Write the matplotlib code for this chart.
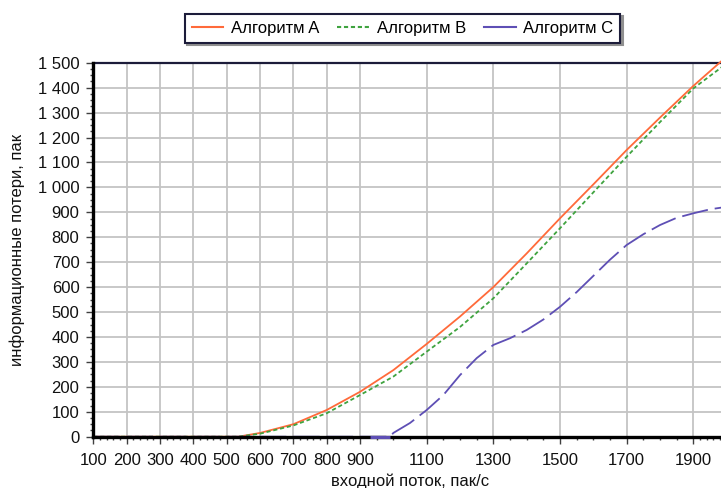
import matplotlib
matplotlib.use("Agg")
import matplotlib.pyplot as plt
from matplotlib.lines import Line2D

plt.rcParams['font.family'] = ['Liberation Sans', 'DejaVu Sans']
plt.rcParams['lines.scale_dashes'] = False

# ---- data ----
x_a = [100, 300, 500, 535, 600, 700, 800, 900, 1000, 1100, 1200, 1300, 1400, 1500, 1600, 1700, 1800, 1900, 2000]
y_a = [0, 0, 0, 0, 15, 50, 107, 180, 267, 372, 482, 600, 735, 876, 1012, 1150, 1280, 1407, 1525]

x_b = [100, 300, 500, 535, 600, 700, 800, 900, 1000, 1100, 1200, 1300, 1400, 1500, 1600, 1700, 1800, 1900, 2000]
y_b = [0, 0, 0, 0, 12, 45, 94, 167, 241, 341, 440, 555, 695, 836, 980, 1123, 1262, 1397, 1497]

x_c = [100, 500, 900, 990, 1000, 1050, 1100, 1150, 1200, 1250, 1300, 1350, 1400, 1450, 1500, 1550,
       1600, 1650, 1700, 1750, 1800, 1850, 1900, 1950, 2000]
y_c = [0, 0, 0, 0, 15, 55, 107, 167, 247, 315, 368, 395, 428, 470, 521, 580,
       645, 710, 769, 812, 849, 878, 896, 912, 922]

series_names = ['Алгоритм A', 'Алгоритм B', 'Алгоритм C']
x_major = [100, 200, 300, 400, 500, 600, 700, 800, 900, 1100, 1300, 1500, 1700, 1900]
y_major = list(range(0, 1501, 100))

c_a = '#FF6A3A'
c_b = '#3FA33F'
c_c = '#5E4FB5'

W, H = 721, 488
fig = plt.figure(figsize=(W / 100, H / 100), dpi=100)
left_px, right_px = 93.3, 726.7
top_px, bot_px = 62.7, 436.7
ax = fig.add_axes([left_px / W, 1 - bot_px / H, (right_px - left_px) / W, (bot_px - top_px) / H])

ax.set_xlim(100, 2000)
ax.set_ylim(0, 1500)

# grid
grid_c = '#C4C4C4'
for v in x_major[1:]:
    ax.axvline(v, color=grid_c, lw=1.3, zorder=0)
for v in y_major[1:]:
    ax.axhline(v, color=grid_c, lw=1.3, zorder=0)

la, = ax.plot(x_a, y_a, color=c_a, lw=1.3, label=series_names[0], zorder=3)
lb, = ax.plot(x_b, y_b, color=c_b, lw=1.3, label=series_names[1], zorder=3)
lb.set_dashes((3.0, 2.0))
lc, = ax.plot(x_c, y_c, color=c_c, lw=1.3, label=series_names[2], zorder=3)
lc.set_dashes((19, 5))
for ln in (la, lb, lc):
    ln.set_clip_on(False)

# short visible piece of series C lying on the axis
ax.plot([930, 990], [0, 0], color=c_c, lw=2.2, zorder=6, clip_on=False,
        solid_capstyle='butt')

# legend (C shown solid)
h_a = Line2D([], [], color=c_a, lw=1.5)
h_b = Line2D([], [], color=c_b, lw=1.5, dashes=(3.0, 2.0))
h_c = Line2D([], [], color=c_c, lw=1.5)
leg = fig.legend([h_a, h_b, h_c], series_names, loc='upper center',
                 bbox_to_anchor=(402.5 / W, 1 - 13.5 / H), ncol=3, fontsize=12,
                 frameon=True, fancybox=False, shadow={'color': '#909090', 'alpha': 1.0},
                 borderpad=0.42, handlelength=1.9, handletextpad=0.45,
                 columnspacing=1.1, borderaxespad=0)
leg.get_frame().set_edgecolor('#1c1c3a')
leg.get_frame().set_linewidth(1.5)

# ticks
ax.set_xticks(x_major)
ax.set_xticklabels([str(v) for v in x_major])
minor_x = list(range(120, 900, 20)) + [950, 1000, 1050] + list(range(1150, 1900, 50)) + list(range(1920, 2000, 20))
minor_x = [v for v in minor_x if v not in x_major]
ax.set_xticks(minor_x, minor=True)
ax.set_yticks(y_major)
ax.set_yticklabels([f"{v:,}".replace(",", " ") for v in y_major])
ax.set_yticks([v for v in range(0, 1501, 25) if v % 100], minor=True)

ax.tick_params(axis='both', which='major', direction='out', length=5, width=1.0,
               color='#404040', labelsize=12, labelcolor='#111111')
ax.tick_params(axis='x', which='major', pad=7)
ax.tick_params(axis='y', which='major', pad=5)
ax.tick_params(axis='both', which='minor', direction='out', length=2.5, width=1.0, color='#404040')

for s in ['left', 'bottom']:
    ax.spines[s].set_linewidth(2.4)
    ax.spines[s].set_color('#000000')
    ax.spines[s].set_zorder(5)
ax.spines['top'].set_linewidth(1.6)
ax.spines['top'].set_color('#1c1c3a')
ax.spines['right'].set_visible(False)

ax.set_xlabel('входной поток, пак/с', fontsize=12, color='#111111', labelpad=4)
ax.set_ylabel('информационные потери, пак', fontsize=12, color='#111111', labelpad=9)

fig.savefig('out.png', dpi=100, facecolor='white')
